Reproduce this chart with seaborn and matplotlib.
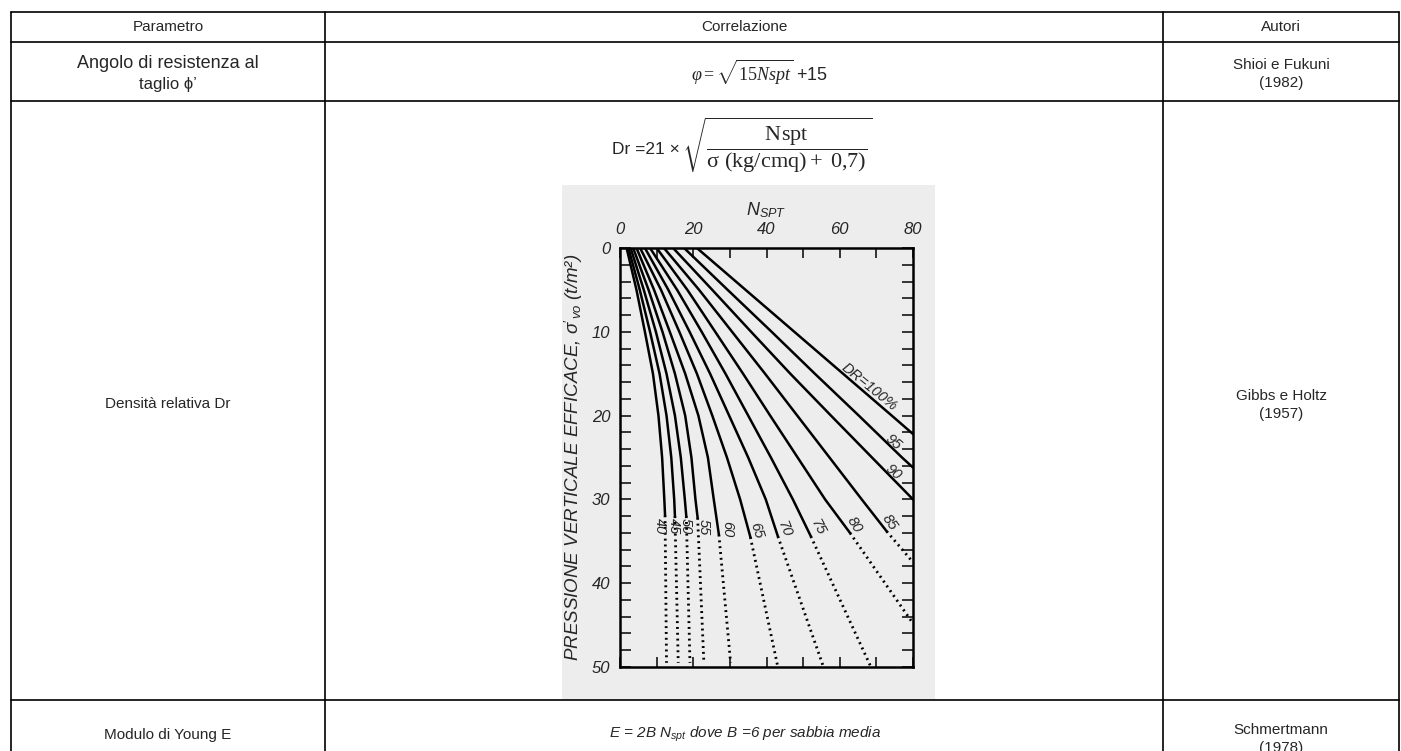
import numpy as np
import pandas as pd
import seaborn as sns
import matplotlib
import matplotlib.pyplot as plt
from matplotlib.patches import Rectangle

matplotlib.use("Agg")

# ─── Table content ──────────────────────────────────────────────────────────
HEADERS = ["Parametro", "Correlazione", "Autori"]
PARAMETERS = ["Angolo di resistenza al\ntaglio ϕ’", "Densità relativa Dr", "Modulo di Young E"]
AUTHORS = ["Shioi e Fukuni\n(1982)", "Gibbs e Holtz\n(1957)", "Schmertmann\n(1978)"]
FORMULA_PHI = r"$\varphi = \sqrt{15Nspt}$ +15"
FORMULA_DR_LEFT = "Dr =21 ×"
FORMULA_DR_ROOT = r"$\sqrt{\dfrac{\mathrm{Nspt}}{\mathrm{\sigma\ (kg/cmq)}+\ 0{,}7)}}$"
FORMULA_E = r"E = 2B N$_{\mathbf{spt}}$ dove B =6 per sabbia media"

# ─── Gibbs & Holtz chart (N_SPT read at sigma'vo = 0, 5, 10, ... t/m2) ─────
SIGMA_GRID = [0, 5, 10, 15, 20, 25, 30]
DR_LEVELS = [40, 45, 50, 55, 60, 65, 70, 75, 80, 85, 90, 95, 100]
N_DR40 = [1.8, 4.5, 6.8, 9.0, 10.5, 11.5, 12.1]
N_DR45 = [2.3, 5.4, 8.2, 10.8, 12.7, 14.0, 14.8]
N_DR50 = [2.9, 6.5, 9.8, 12.7, 15.0, 16.6, 17.7]
N_DR55 = [3.6, 7.8, 11.6, 15.0, 17.8, 19.5, 20.6]
N_DR60 = [4.5, 9.3, 13.6, 17.8, 21.4, 24.0, 25.6]
N_DR65 = [5.5, 11.2, 16.2, 21.0, 25.2, 29.2, 32.8]
N_DR70 = [6.8, 13.2, 19.0, 24.6, 29.8, 35.0, 39.8]
N_DR75 = [8.2, 15.6, 22.3, 28.8, 35.0, 41.2, 47.2]
N_DR80 = [10.0, 18.4, 26.0, 33.6, 41.0, 48.5, 56.0]
N_DR85 = [12.0, 21.6, 30.6, 39.6, 48.4, 57.2, 66.0]
N_DR90 = [14.5, 25.2, 35.8, 46.5, 57.6, 68.8]
N_DR95 = [17.5, 29.4, 41.4, 53.2, 65.2, 77.0]
N_DR100 = [21.0, 34.3, 47.6, 60.9, 74.2]
N_CURVES = [N_DR40, N_DR45, N_DR50, N_DR55, N_DR60, N_DR65, N_DR70,
            N_DR75, N_DR80, N_DR85, N_DR90, N_DR95, N_DR100]

# end of the solid part of each curve
SOLID_END_SIGMA = [31.9, 32.0, 32.0, 32.2, 34.2, 34.5, 34.4, 34.4, 34.0, 33.8, 30.0, 26.2, 22.2]
SOLID_END_N = [12.3, 15.0, 18.1, 21.2, 27.0, 35.6, 43.1, 52.1, 62.8, 72.8, 80.0, 80.0, 80.0]
# end of the dotted extrapolation (DR 40 ... 85)
DOT_END_SIGMA = [49.5, 49.5, 49.5, 49.5, 49.5, 49.8, 49.8, 49.8, 44.8, 37.5]
DOT_END_N = [12.7, 15.9, 19.1, 22.9, 30.2, 43.0, 55.4, 68.3, 80.0, 80.0]

CURVE_LABELS = ["40", "45", "50", "55", "60", "65", "70", "75", "80", "85", "90", "95", "DR=100%"]
LABEL_POS = [(10.9, 33.2), (14.6, 33.2), (17.9, 33.2), (22.9, 33.3), (29.3, 33.6),
             (37.2, 33.7), (44.8, 33.5), (53.9, 33.3), (64.0, 33.0), (73.6, 32.7),
             (74.6, 26.7), (74.6, 23.2), (68.0, 16.6)]
LABEL_ROT = [-90, -90, -90, -90, -90, -72, -68, -62, -58, -55, -40, -40, -39]

SCAN_BG = "#ededed"

sns.set_style("white")
plt.rcParams["font.family"] = ["Liberation Sans", "DejaVu Sans"]
plt.rcParams["mathtext.fontset"] = "custom"
plt.rcParams["mathtext.rm"] = "Liberation Serif"
plt.rcParams["mathtext.it"] = "Liberation Serif:italic"
plt.rcParams["mathtext.bf"] = "Liberation Sans:italic"
plt.rcParams["mathtext.sf"] = "Liberation Sans"

W, H = 1401, 751
fig = plt.figure(figsize=(W / 100, H / 100), dpi=100)

# ═════════════════════════════════════════════════════════════════════════════
# TABLE (pixel coordinates)
# ═════════════════════════════════════════════════════════════════════════════
tab = fig.add_axes([0, 0, 1, 1])
tab.set_xlim(0, W)
tab.set_ylim(H, 0)
tab.axis("off")

col_x = [11, 325, 1163, 1399]
row_y = [12, 42, 101, 700]
for y in row_y:
    tab.plot([col_x[0], col_x[-1]], [y, y], color="black", lw=1.2)
for x in col_x:
    tab.plot([x, x], [row_y[0], H + 5], color="black", lw=1.2)

col_c = [(col_x[i] + col_x[i + 1]) / 2 for i in range(3)]
fs = 11
for c, t in zip(col_c, HEADERS):
    tab.text(c, 27, t, ha="center", va="center", fontsize=fs)

# parameter column
tab.text(col_c[0], 63, "Angolo di resistenza al", ha="center", va="center", fontsize=13)
tab.text(col_c[0], 85, "taglio ϕ’", ha="center", va="center", fontsize=12)
tab.text(col_c[0], 404, PARAMETERS[1], ha="center", va="center", fontsize=fs)
tab.text(col_c[0], 735, PARAMETERS[2], ha="center", va="center", fontsize=fs)

# authors column
for yc, a in zip([74, 405, 739], AUTHORS):
    tab.text(col_c[2], yc, a, ha="center", va="center", fontsize=fs, linespacing=1.45)

tab.text(760, 72, FORMULA_PHI, ha="center", va="center", fontsize=13)
tab.text(680, 149, FORMULA_DR_LEFT, ha="right", va="center", fontsize=12.5)
tab.text(682, 145, FORMULA_DR_ROOT, ha="left", va="center", fontsize=16)
tab.text(745, 735, FORMULA_E, ha="center", va="center", fontsize=fs, style="italic")

# scanned figure background
tab.add_patch(Rectangle((562, 185), 373, 515, facecolor=SCAN_BG, edgecolor="none", zorder=0))

# ═════════════════════════════════════════════════════════════════════════════
# GIBBS & HOLTZ CHART
# ═════════════════════════════════════════════════════════════════════════════
ax = fig.add_axes([620 / W, 1 - 667 / H, 293 / W, 419 / H])
ax.set_facecolor(SCAN_BG)

for i, n_vals in enumerate(N_CURVES):
    sig = SIGMA_GRID[:len(n_vals)] + [SOLID_END_SIGMA[i]]
    nn = n_vals + [SOLID_END_N[i]]
    sns.lineplot(x=nn, y=sig, ax=ax, color="black", lw=1.8,
                 sort=False, estimator=None)
    if i < len(DOT_END_N):
        sns.lineplot(x=[SOLID_END_N[i], DOT_END_N[i]],
                     y=[SOLID_END_SIGMA[i], DOT_END_SIGMA[i]],
                     ax=ax, color="black", lw=2.0, linestyle=(0, (0.7, 1.4)),
                     sort=False, estimator=None)

for txt, (nx, sy), rot in zip(CURVE_LABELS, LABEL_POS, LABEL_ROT):
    ax.text(nx, sy, txt, rotation=rot, ha="center", va="center",
            fontsize=10.5, style="italic")

ax.set_xlim(0, 80)
ax.set_ylim(50, 0)

ax.xaxis.tick_top()
ax.xaxis.set_label_position("top")
ax.set_xticks([0, 20, 40, 60, 80])
ax.set_xticks([10, 30, 50, 70], minor=True)
ax.set_xticklabels(["0", "20", "40", "60", "80"], fontsize=12, style="italic")
ax.tick_params(axis="x", which="both", direction="in", top=True, bottom=True,
               labeltop=True, labelbottom=False, length=7, width=1.3, pad=8)

ax.set_yticks(range(0, 51, 10))
ax.set_yticks(range(0, 51, 2), minor=True)
ax.set_yticklabels([str(v) for v in range(0, 51, 10)], fontsize=12, style="italic")
ax.tick_params(axis="y", which="both", direction="in", left=True, right=True,
               length=8, width=1.3, pad=7)

ax.set_xlabel(r"$\mathbf{N}_{\mathbf{SPT}}$", fontsize=13, labelpad=5)
ax.set_ylabel(r"PRESSIONE VERTICALE EFFICACE, $\mathbf{\sigma}'_{\mathbf{vo}}$ (t/m²)",
              fontsize=13.5, style="italic", labelpad=5)

for s in ax.spines.values():
    s.set_linewidth(1.8)
    s.set_color("black")

plt.savefig("out.png", dpi=100)
plt.close()
